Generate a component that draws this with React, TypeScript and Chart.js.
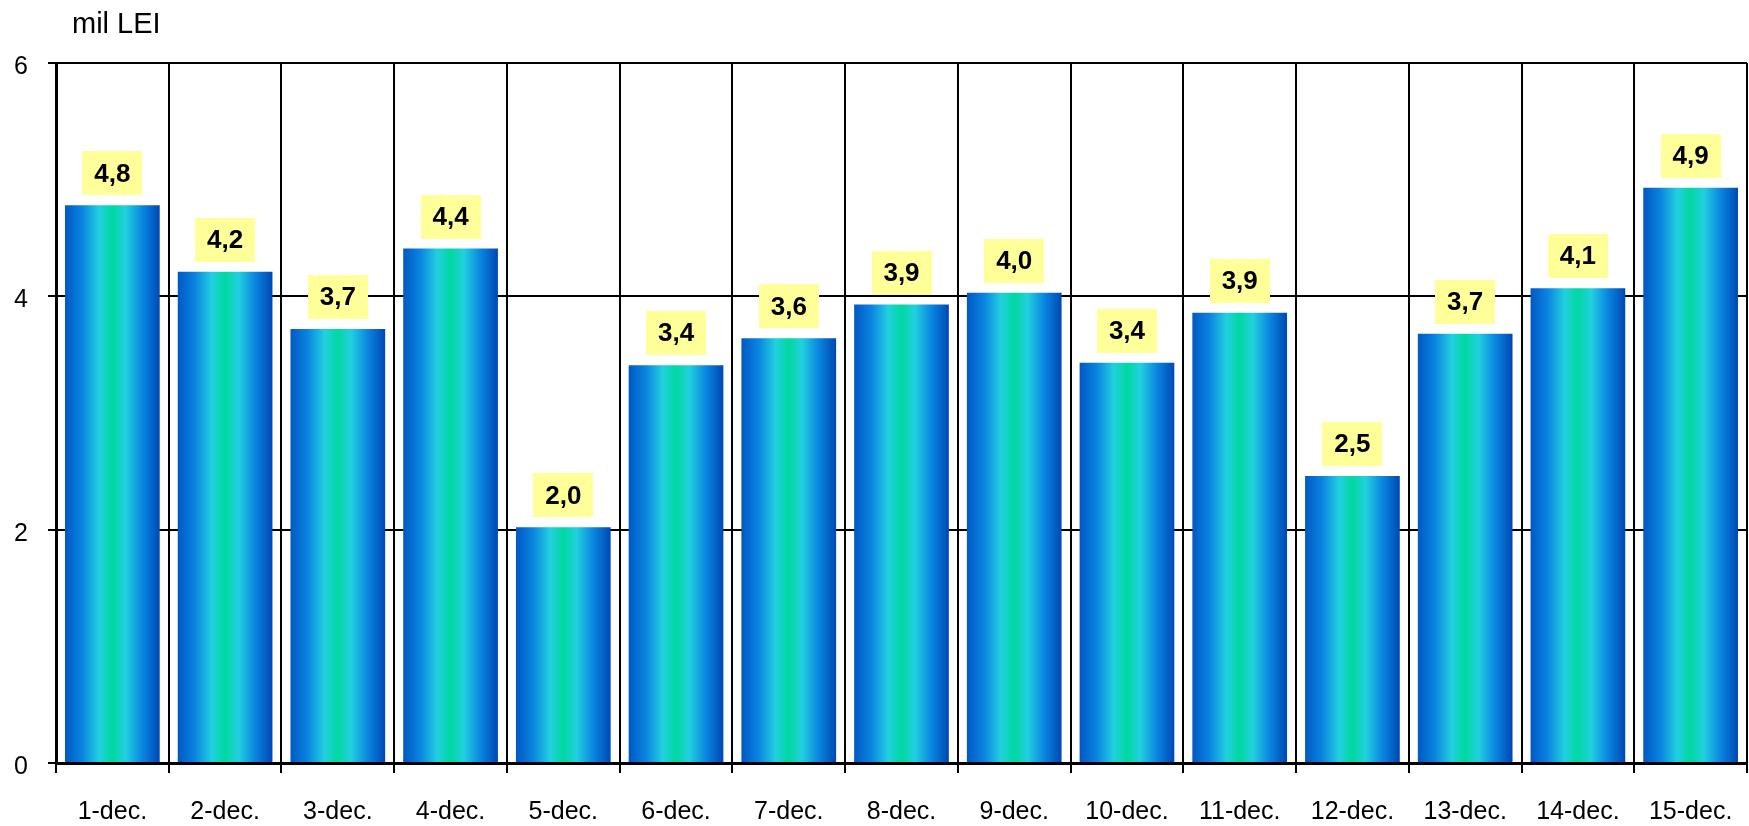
import React, { useEffect, useRef } from 'react';
import { Chart, registerables } from 'chart.js';

Chart.register(...registerables);

const categories = ['1-dec.', '2-dec.', '3-dec.', '4-dec.', '5-dec.', '6-dec.', '7-dec.', '8-dec.', '9-dec.', '10-dec.', '11-dec.', '12-dec.', '13-dec.', '14-dec.', '15-dec.'];
const values = [4.78, 4.21, 3.72, 4.41, 2.02, 3.41, 3.64, 3.93, 4.03, 3.43, 3.86, 2.46, 3.68, 4.07, 4.93];
const yTicks = [0, 2, 4, 6];
const unitLabel = 'mil LEI';

const FONT = '"Liberation Sans", Arial, sans-serif';
const BAR_PCT = 0.84;

const fmt = (v: number) => v.toFixed(1).replace('.', ',');

const unitPlugin = {
  id: 'unitLabel',
  afterDraw(chart: any) {
    const ctx = chart.ctx;
    ctx.save();
    ctx.font = `29px ${FONT}`;
    ctx.fillStyle = '#000';
    ctx.textAlign = 'left';
    ctx.textBaseline = 'alphabetic';
    ctx.fillText(unitLabel, 72, 33);
    ctx.restore();
  },
};

const labelPlugin = {
  id: 'valueLabels',
  afterDatasetsDraw(chart: any) {
    const ctx = chart.ctx;
    const meta = chart.getDatasetMeta(0);
    ctx.save();
    meta.data.forEach((bar: any, i: number) => {
      const w = 60;
      const h = 44;
      const bottom = bar.y - 10;
      ctx.fillStyle = '#FFFF99';
      ctx.fillRect(Math.round(bar.x - w / 2), Math.round(bottom - h), w, h);
      ctx.fillStyle = '#000';
      ctx.font = `bold 26px ${FONT}`;
      ctx.textAlign = 'center';
      ctx.textBaseline = 'middle';
      ctx.fillText(fmt(values[i]), bar.x, bottom - h / 2 + 1);
    });
    ctx.restore();
  },
};

export default function App() {
  const ref = useRef<HTMLCanvasElement | null>(null);

  useEffect(() => {
    if (!ref.current) return;
    const chart = new Chart(ref.current, {
      type: 'bar',
      data: {
        labels: categories,
        datasets: [
          {
            data: values,
            barPercentage: BAR_PCT,
            categoryPercentage: 1,
            borderWidth: 0,
            backgroundColor: (c: any) => {
              const ch = c.chart;
              const xs = ch.scales && ch.scales.x;
              if (!xs || c.type !== 'data') return '#0a80e0';
              const cx = xs.getPixelForValue(c.dataIndex);
              const half = ((xs.width / categories.length) * BAR_PCT) / 2;
              if (!isFinite(cx) || !isFinite(half) || half <= 0) return '#0a80e0';
              const g = ch.ctx.createLinearGradient(cx - half, 0, cx + half, 0);
              g.addColorStop(0, '#0058c4');
              g.addColorStop(0.18, '#0a84e0');
              g.addColorStop(0.36, '#22d0e0');
              g.addColorStop(0.5, '#00d8a0');
              g.addColorStop(0.64, '#22d0e0');
              g.addColorStop(0.82, '#0a84e0');
              g.addColorStop(1, '#0048b4');
              return g;
            },
          },
        ],
      },
      options: {
        responsive: false,
        animation: false,
        devicePixelRatio: 1,
        layout: { padding: { top: 63, right: 2, left: 0, bottom: 0 } },
        plugins: {
          legend: { display: false },
          tooltip: { enabled: false },
          title: { display: false },
        },
        scales: {
          x: {
            offset: true,
            grid: {
              offset: true,
              color: '#000',
              lineWidth: 2,
              tickLength: 10,
              drawTicks: true,
            },
            border: { display: true, color: '#000', width: 3 },
            ticks: {
              color: '#000',
              font: { family: FONT, size: 25 },
              padding: 24,
              maxRotation: 0,
              autoSkip: false,
            },
            afterFit: (s: any) => {
              s.height = 63;
              s.paddingLeft = 0;
              s.paddingRight = 0;
            },
          },
          y: {
            min: 0,
            max: 6,
            grid: {
              color: '#000',
              lineWidth: 2,
              tickLength: 8,
              drawTicks: true,
            },
            border: { display: true, color: '#000', width: 3 },
            ticks: {
              color: '#000',
              font: { family: FONT, size: 25 },
              padding: 20,
              labelOffset: 4,
            },
            afterBuildTicks: (s: any) => {
              s.ticks = yTicks.map((v) => ({ value: v }));
            },
            afterFit: (s: any) => {
              s.width = 56;
              s.paddingTop = 0;
              s.paddingBottom = 0;
            },
          },
        },
      },
      plugins: [labelPlugin, unitPlugin],
    });
    return () => chart.destroy();
  }, []);

  return (
    <div style={{ position: 'fixed', left: 0, top: 0, width: 1749, height: 826, background: '#fff' }}>
      <canvas ref={ref} width={1749} height={826} style={{ display: 'block', width: 1749, height: 826 }} />
    </div>
  );
}
